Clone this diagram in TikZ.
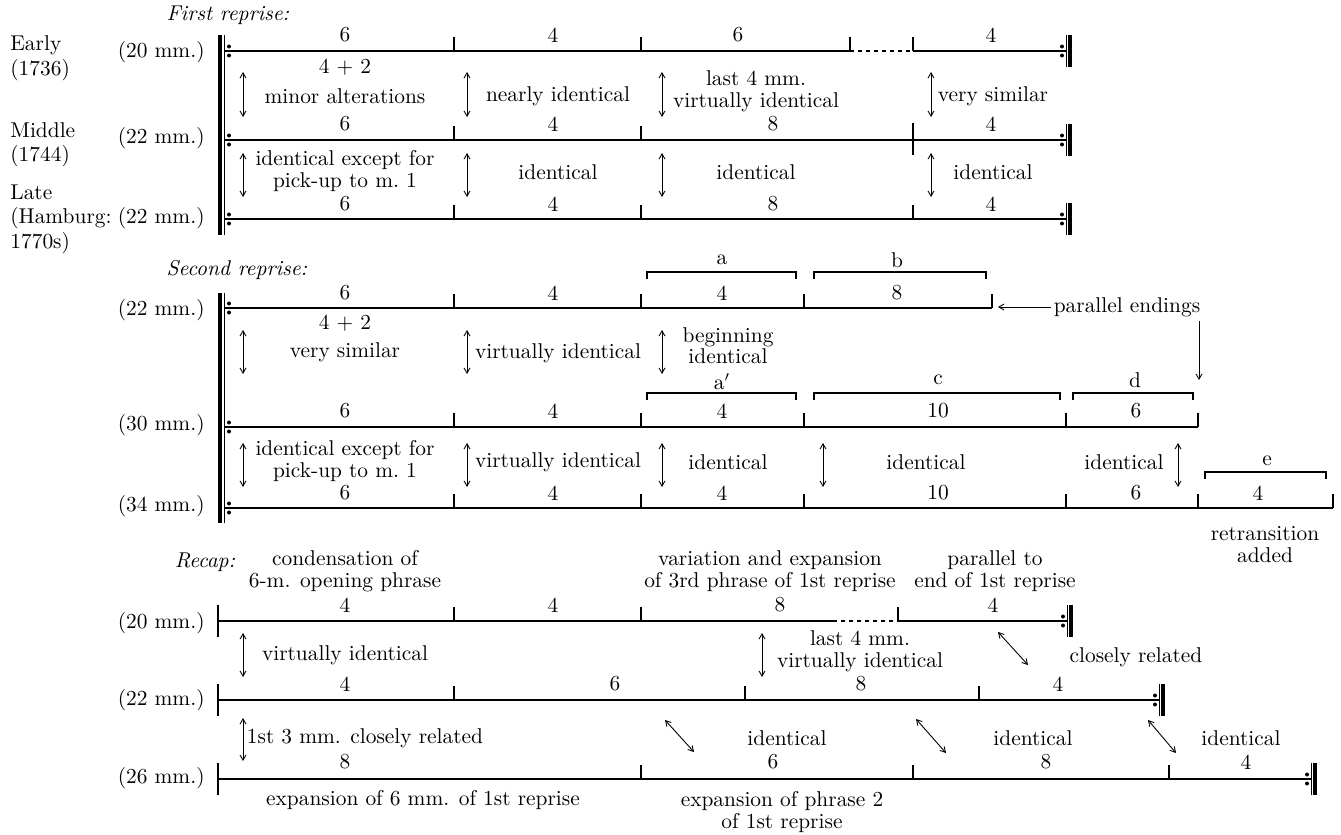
\documentclass[tikz,border=0pt]{standalone}
\usepackage{tikz}
\usetikzlibrary{arrows.meta}

\tikzset{
  endrep/.pic={
    \fill (0,-4.5) circle[radius=1pt];
    \fill (0,4.5) circle[radius=1pt];
    \draw[line width=0.5pt] (4,-16) -- (4,16);
    \draw[line width=1.7pt] (8,-16) -- (8,16);
  },
  begdots/.pic={
    \fill (0,-4.5) circle[radius=1pt];
    \fill (0,4.5) circle[radius=1pt];
  }
}

\begin{document}
\begin{tikzpicture}[
    x=0.5pt, y=-0.5pt,
    every node/.style={font=\fontsize{10.7}{11}\selectfont, inner sep=1pt, align=center},
    staff/.style={line width=0.55pt},
    heading/.style={font=\fontsize{10.7}{12}\selectfont\itshape},
    side/.style={anchor=west},
    dur/.style={anchor=east},
    cmp/.style={{Straight Barb[length=2.6pt,width=3pt]}-{Straight Barb[length=2.6pt,width=3pt]}, line width=0.45pt},
    pointer/.style={-{Straight Barb[length=2.6pt,width=3pt]}, line width=0.45pt},
    brk/.style={line width=0.6pt}
  ]
  \useasboundingbox (0,0) rectangle (1341,835);

  % ---- first reprise
  \node[heading] (hfirst) at (228,15) {First reprise:};
  \node[side] (early) at (8,45) {Early};
  \node[side] (earlyyr) at (8,70) {(1736)};
  \node[side] (middle) at (8,130) {Middle};
  \node[side] (middleyr) at (8,156) {(1744)};
  \node[side] (late) at (8,192) {Late};
  \node[side] (lateplace) at (8,218) {(Hamburg:};
  \node[side] (lateyr) at (8,243) {1770s)};
  \node[dur] (fa) at (207,52) {(20 mm.)};
  \node[dur] (fb) at (207,138) {(22 mm.)};
  \node[dur] (fc) at (207,218) {(22 mm.)};

  \draw[line width=2pt] (220,35) -- (220,235);
  \draw[line width=0.5pt] (224.5,35) -- (224.5,235);
  \foreach \y in {51,140,219} {
    \pic at (229,\y) {begdots};
    \pic at (1062,\y) {endrep};
  }
  \draw[staff] (224,51) -- (850,51);
  \draw[staff, dash pattern=on 2pt off 2pt] (850,51) -- (913,51);
  \draw[staff] (913,51) -- (1066,51);
  \draw[staff] (224,140) -- (1066,140);
  \draw[staff] (224,219) -- (1066,219);
  \foreach \x in {454,641,850,913} \draw[staff] (\x,37) -- (\x,51);
  \foreach \x in {454,641} \draw[staff] (\x,126) -- (\x,140);
  \draw[staff] (913,123) -- (913,155);
  \foreach \x in {454,641,913} \draw[staff] (\x,205) -- (\x,219);

  \node (f11) at (345,35) {6};
  \node (f12) at (553,35) {4};
  \node (f13) at (738,35) {6};
  \node (f14) at (991,35) {4};
  \node (f21) at (345,124) {6};
  \node (f22) at (553,124) {4};
  \node (f23) at (773,124) {8};
  \node (f24) at (991,124) {4};
  \node (f31) at (345,204) {6};
  \node (f32) at (553,204) {4};
  \node (f33) at (773,204) {8};
  \node (f34) at (991,204) {4};

  \node (fc1a) at (345,67) {4 + 2};
  \node (fc1b) at (345,96) {minor alterations};
  \node (fc2) at (558,96) {nearly identical};
  \node (fc3) at (756,91.5) {last 4 mm.\\virtually identical};
  \node (fc4) at (993,96) {very similar};
  \node (fd1) at (345,171.5) {identical except for\\pick-up to m.~1};
  \node (fd2) at (558,172) {identical};
  \node (fd3) at (756,172) {identical};
  \node (fd4) at (993,172) {identical};
  \foreach \x in {243,467,662,931} {
    \draw[cmp] (\x,72) -- (\x,117);
    \draw[cmp] (\x,153) -- (\x,197);
  }

  % ---- second reprise
  \node[heading] (hsecond) at (237,270) {Second reprise:};
  \node[dur] (sa) at (207,310) {(22 mm.)};
  \node[dur] (sb) at (207,425) {(30 mm.)};
  \node[dur] (sc) at (207,506) {(34 mm.)};

  \draw[line width=2pt] (220,293) -- (220,523);
  \draw[line width=0.5pt] (224.5,293) -- (224.5,523);
  \foreach \y in {308,427,508} \pic at (229,\y) {begdots};
  \draw[staff] (224,308) -- (992,308);
  \draw[staff] (224,427) -- (1198,427);
  \draw[staff] (224,508) -- (1333,508);
  \foreach \x in {454,641,804,992} \draw[staff] (\x,294) -- (\x,308);
  \foreach \x in {454,641,804,1066,1198} \draw[staff] (\x,413) -- (\x,427);
  \foreach \x in {454,641,804,1066,1198,1333} \draw[staff] (\x,494) -- (\x,508);

  \draw[brk] (647,279) -- (647,272) -- (796,272) -- (796,279);
  \draw[brk] (814,279) -- (814,272) -- (986,272) -- (986,279);
  \draw[brk] (647,400) -- (647,393) -- (796,393) -- (796,400);
  \draw[brk] (814,400) -- (814,393) -- (1060,393) -- (1060,400);
  \draw[brk] (1073,400) -- (1073,393) -- (1193,393) -- (1193,400);
  \draw[brk] (1205,479) -- (1205,472) -- (1326,472) -- (1326,479);
  \node (la) at (722,260) {a};
  \node (lb) at (897,260) {b};
  \node (lap) at (722,382) {a$'$};
  \node (lc) at (938,380) {c};
  \node (ld) at (1135,380) {d};
  \node (le) at (1267,461) {e};

  \node (sa1) at (345,293) {6};
  \node (sa2) at (553,293) {4};
  \node (sa3) at (722,293) {4};
  \node (sa4) at (897,293) {8};
  \node (sb1) at (345,411) {6};
  \node (sb2) at (553,411) {4};
  \node (sb3) at (722,411) {4};
  \node (sb4) at (938,411) {10};
  \node (sb5) at (1136,411) {6};
  \node (sc1) at (345,493) {6};
  \node (sc2) at (553,493) {4};
  \node (sc3) at (722,493) {4};
  \node (sc4) at (938,493) {10};
  \node (sc5) at (1136,493) {6};
  \node (sc6) at (1258,493) {4};

  \node (par) at (1127,307) {parallel endings};
  \coordinate (parb) at (998,307);
  \coordinate (partop) at (1199,321);
  \coordinate (pard) at (1199,380);
  \draw[pointer] (par.west) -- (parb);
  \draw[pointer] (partop) -- (pard);

  \node (sca1) at (345,323) {4 + 2};
  \node (sca2) at (345,352) {very similar};
  \node (sca3) at (558,353) {virtually identical};
  \node[font=\fontsize{10.7}{10.4}\selectfont] (sca4) at (728,346) {beginning\\identical};
  \foreach \x in {243,467,662} \draw[cmp] (\x,330) -- (\x,374);
  \node (scb1) at (345,461) {identical except for\\pick-up to m.~1};
  \node (scb2) at (558,462) {virtually identical};
  \node (scb3) at (728,462) {identical};
  \node (scb4) at (926,462) {identical};
  \node (scb5) at (1124,462) {identical};
  \foreach \x in {243,467,662,823,1178} \draw[cmp] (\x,443) -- (\x,487);
  \node (retr) at (1265,545) {retransition\\added};

  % ---- recapitulation
  \node[heading] (hrecap) at (205,562) {Recap:};
  \node (ra) at (345,571) {condensation of\\6-m. opening phrase};
  \node (rb) at (770,571) {variation and expansion\\of 3rd phrase of 1st reprise};
  \node (rc) at (995,571) {parallel to\\end of 1st reprise};
  \node[dur] (rd1) at (207,623) {(20 mm.)};
  \node[dur] (rd2) at (207,700) {(22 mm.)};
  \node[dur] (rd3) at (207,778) {(26 mm.)};

  \foreach \y in {621,700,779} \draw[staff] (218,\y-16) -- (218,\y+16);
  \draw[staff] (218,621) -- (833,621);
  \draw[staff, dash pattern=on 2pt off 2pt] (833,621) -- (898,621);
  \draw[staff] (898,621) -- (1067,621);
  \draw[staff] (218,700) -- (1159,700);
  \draw[staff] (218,779) -- (1311,779);
  \foreach \x in {454,641,898} \draw[staff] (\x,607) -- (\x,621);
  \foreach \x in {454,745,979} \draw[staff] (\x,686) -- (\x,700);
  \foreach \x in {641,913,1169} \draw[staff] (\x,765) -- (\x,779);
  \pic at (1063,621) {endrep};
  \pic at (1155,700) {endrep};
  \pic at (1307,779) {endrep};

  \node (r11) at (345,605) {4};
  \node (r12) at (553,605) {4};
  \node (r13) at (780,605) {8};
  \node (r14) at (993,605) {4};
  \node (r21) at (345,684) {4};
  \node (r22) at (615,684) {6};
  \node (r23) at (861,684) {8};
  \node (r24) at (1058,684) {4};
  \node (r31) at (345,762) {8};
  \node (r32) at (773,762) {6};
  \node (r33) at (1046,762) {8};
  \node (r34) at (1246,762) {4};

  \node (rc11) at (345,655) {virtually identical};
  \node (rc12) at (860,651.5) {last 4 mm.\\virtually identical};
  \node (rc13) at (1136,657) {closely related};
  \draw[cmp] (243,633) -- (243,677);
  \draw[cmp] (762,633) -- (762,677);
  \draw[cmp] (998,632) -- (1028,665);
  \node (rc21) at (365,738) {1st 3 mm. closely related};
  \node (rc22) at (787,738) {identical};
  \node (rc23) at (1033,738) {identical};
  \node (rc24) at (1241,738) {identical};
  \draw[cmp] (243,718) -- (243,761);
  \draw[cmp] (665,720) -- (694,752);
  \draw[cmp] (916,719) -- (946,753);
  \draw[cmp] (1148,720) -- (1176,753);
  \node (rx1) at (423,800) {expansion of 6 mm. of 1st reprise};
  \node (rx2) at (782,812) {expansion of phrase 2\\of 1st reprise};
\end{tikzpicture}
\end{document}
